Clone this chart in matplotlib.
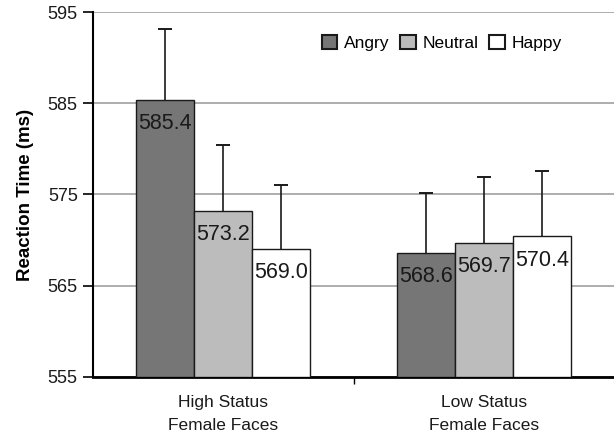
import matplotlib
matplotlib.use("Agg")
import matplotlib.pyplot as plt
import numpy as np

plt.rcParams['font.family'] = ['Liberation Sans', 'DejaVu Sans']

groups = ["High Status\nFemale Faces", "Low Status\nFemale Faces"]
series = ["Angry", "Neutral", "Happy"]
means = {
    "Angry": [585.4, 568.6],
    "Neutral": [573.2, 569.7],
    "Happy": [569.0, 570.4],
}
errors = {
    "Angry": [7.7, 6.6],
    "Neutral": [7.2, 7.2],
    "Happy": [7.0, 7.2],
}
colors = {"Angry": "#767676", "Neutral": "#bcbcbc", "Happy": "#ffffff"}
yticks = [555, 565, 575, 585, 595]

fig = plt.figure(figsize=(6.14, 4.38), dpi=100)
ax = fig.add_axes([0.1515, 0.1393, 0.8485, 0.8333])

x = np.arange(len(groups))
w = 0.223
for i, s in enumerate(series):
    pos = x + (i - 1) * w
    vals = np.array(means[s])
    errs = np.array(errors[s])
    ax.bar(pos, vals - 555, bottom=555, width=w, color=colors[s],
           edgecolor="#1a1a1a", linewidth=1.0, label=s, zorder=3)
    ax.vlines(pos, vals, vals + errs, color="#1a1a1a", linewidth=1.2, zorder=4)
    ax.errorbar(pos, vals + errs, yerr=np.zeros_like(vals), fmt="none",
                ecolor="#1a1a1a", elinewidth=1.2, capsize=5, capthick=1.2, zorder=4)
    for p, v in zip(pos, vals):
        ax.annotate(f"{v:.1f}", (p, v), xytext=(0, -17), textcoords="offset points",
                    ha="center", va="center", fontsize=15.5, color="#1a1a1a", zorder=5)

ax.set_ylim(555, 595)
ax.set_xlim(-0.5, 1.5)
ax.set_yticks(yticks)
ax.set_yticklabels([str(t) for t in yticks], fontsize=13, color="#1a1a1a")
ax.yaxis.grid(True, color="#a0a0a0", linewidth=1.2, zorder=0)
ax.set_axisbelow(True)
ax.tick_params(axis="y", length=7, width=1.2, direction="out", pad=4)

ax.set_xticks(x)
ax.set_xticklabels(groups, fontsize=12.5, color="#1a1a1a", linespacing=1.65)
ax.tick_params(axis="x", length=0, pad=13)
ax.set_xticks([0.5], minor=True)
ax.tick_params(axis="x", which="minor", length=5, width=1.0, direction="out")

ax.set_ylabel("Reaction Time (ms)", fontsize=13.5, fontweight="bold", labelpad=10)

for sp in ["top", "right"]:
    ax.spines[sp].set_visible(False)
ax.spines["left"].set_linewidth(1.5)
ax.spines["bottom"].set_linewidth(2.0)

leg = ax.legend(loc="upper right", bbox_to_anchor=(0.93, 0.98), ncol=3, frameon=False,
                fontsize=12.5, handlelength=0.9, handleheight=0.9, handletextpad=0.4,
                columnspacing=0.6)
for h in leg.legend_handles:
    h.set_linewidth(1.5)

fig.savefig("out.png", dpi=100)
